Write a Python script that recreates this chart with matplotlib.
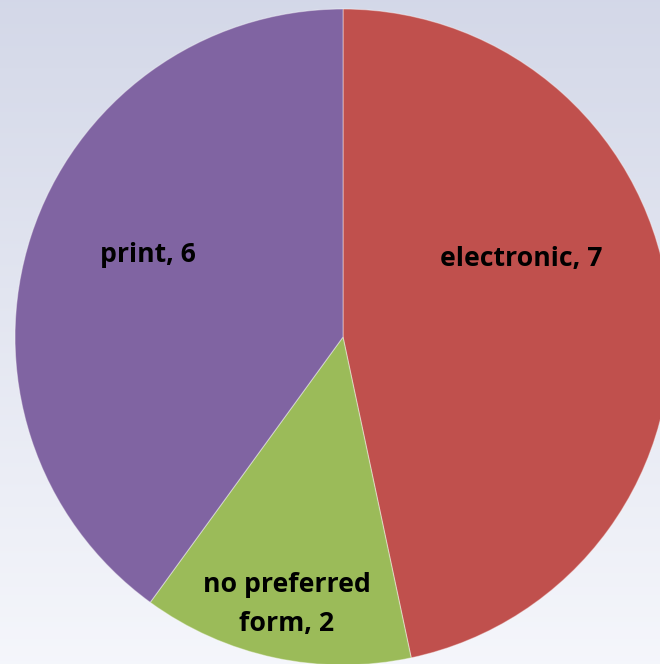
import matplotlib.pyplot as plt
import numpy as np

# chart data
forms = ["electronic", "no preferred\nform", "print"]
counts = [7, 2, 6]
colors = ["#C0504D", "#9BBB59", "#8064A2"]

fig = plt.figure(figsize=(6.6, 6.64), dpi=100)
ax = fig.add_axes([0, 0, 1, 1])

# background gradient (top bluish grey -> almost white at the bottom)
grad = np.linspace(0, 1, 256).reshape(-1, 1)
top = np.array([0.830, 0.847, 0.910])
bot = np.array([0.960, 0.965, 0.985])
img = top + (bot - top) * grad[..., None]
ax.imshow(img, extent=(0, 660, 0, 664), aspect="auto", origin="upper", zorder=0)

cx, cy, r = 343, 327, 328
wedges, _ = ax.pie(counts, colors=colors, startangle=90, counterclock=False,
                   center=(cx, cy), radius=r, frame=True,
                   wedgeprops=dict(edgecolor=(1, 1, 1, 0.4), linewidth=0.8))
for w in wedges:
    w.set_zorder(1)
ax.set_xlim(0, 660)
ax.set_ylim(0, 664)
ax.axis("off")

# label offsets from centre (pixels)
offsets = [(178, 78), (-56, -268), (-195, 82)]
for f, c, (dx, dy) in zip(forms, counts, offsets):
    ax.text(cx + dx, cy + dy, f"{f}, {c}", ha="center", va="center",
            fontsize=19.2, fontweight="bold", family="Open Sans", color="black",
            linespacing=1.65, zorder=3)

plt.savefig("out.png")
